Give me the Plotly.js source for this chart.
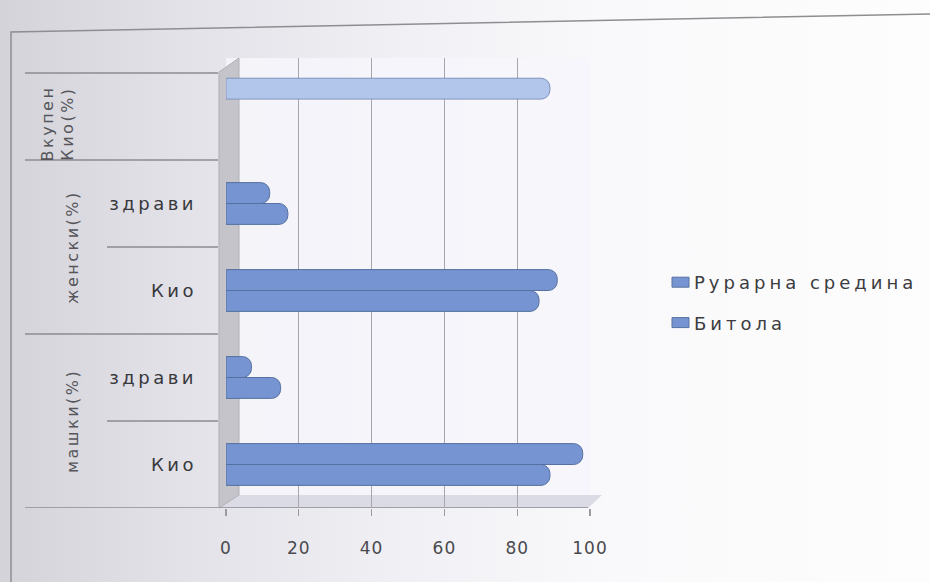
<!DOCTYPE html>
<html>
<head>
<meta charset="utf-8">
<script src="https://cdn.plot.ly/plotly-3.0.1.min.js"></script>
<style>
  html, body { margin: 0; padding: 0; }
  body {
    width: 930px; height: 582px; overflow: hidden;
    background: linear-gradient(to right, #d3d3d9 0%, #e2e2e8 20%, #f0eff4 42%, #f9f9fb 65%, #fdfdfd 100%);
  }
  #chart { width: 930px; height: 582px; }
  .ytick text { letter-spacing: 3.5px; }
  .legendtext { letter-spacing: 4px; }
  .annotation-text { letter-spacing: 2.5px; }
  .xtick text { letter-spacing: 1px; }
  /* wide flat swatches in the legend, sitting close to the text */
  .legendpoints path { d: path("M15,5H-2V-5H15Z"); }
</style>
</head>
<body>
<div id="chart"></div>
<script>
// Inner category labels, bottom to top (the top slot has only an outer label)
const innerLabels = ['Кио', 'здрави', 'Кио', 'здрави', ''];
// Outer group labels
const groupLabels = ['машки(%)', 'женски(%)', 'Вкупен<br>Кио(%)'];
// Series values, bottom to top
const bitola = [89, 15, 86, 17, null];
const ruralna = [98, 7, 91, 12, null];
// Overall value (top slot)
const vkupenKio = [null, null, null, null, 89];
const slots = [0, 1, 2, 3, 4];
const xTicks = [0, 20, 40, 60, 80, 100];

const FONT = 'DejaVu Sans, Verdana, sans-serif';
const barBlue = '#7694d2';
const barEdge = '#56719f';

const traces = [
  {
    type: 'bar', orientation: 'h', name: 'Битола', legendgroup: 'g1', legendrank: 2,
    y: slots, x: bitola, offsetgroup: 'a',
    marker: { color: barBlue, line: { color: barEdge, width: 1 }, cornerradius: 9 },
    hoverinfo: 'x+name'
  },
  {
    type: 'bar', orientation: 'h', name: 'Рурарна средина', legendgroup: 'g2', legendrank: 1,
    y: slots, x: ruralna, offsetgroup: 'b',
    marker: { color: barBlue, line: { color: barEdge, width: 1 }, cornerradius: 9 },
    hoverinfo: 'x+name'
  },
  {
    type: 'bar', orientation: 'h', name: 'Вкупен Кио(%)',
    y: slots, x: vkupenKio, offsetgroup: 'b', offset: 0.2, width: 0.24,
    showlegend: false,
    marker: { color: '#b2c5ea', line: { color: '#8194bd', width: 1 }, cornerradius: 9 },
    hoverinfo: 'x+name'
  }
];

// pixel helpers for paper-anchored decorations
const L = 226, R = 590, T = 58, B = 508;
const px = v => (v - L) / (R - L);
const py = v => (B - v) / (B - T);

const lineColor = '#8b8b90';
const dividers = [
  { y: -0.5, x0: 25, x1: 588 },
  { y: 0.5, x0: 107, x1: 218 },
  { y: 1.5, x0: 25, x1: 218 },
  { y: 2.5, x0: 107, x1: 218 },
  { y: 3.5, x0: 25, x1: 218 },
  { y: 4.5, x0: 25, x1: 218 }
];

const shapes = [
  // floor of the plot box
  { type: 'path', xref: 'paper', yref: 'paper', layer: 'below',
    path: `M${px(219)},${py(508)} L${px(588)},${py(508)} L${px(602)},${py(495)} L${px(239)},${py(495)} Z`,
    fillcolor: '#dadbe5', line: { width: 0 } },
  // side wall
  { type: 'path', xref: 'paper', yref: 'paper', layer: 'below',
    path: `M${px(219)},${py(72)} L${px(239)},${py(58)} L${px(239)},${py(495)} L${px(219)},${py(508)} Z`,
    fillcolor: '#c4c4ca', line: { color: '#b0b0b6', width: 1 } },
  // outer frame
  { type: 'path', xref: 'paper', yref: 'paper', layer: 'below',
    path: `M${px(11)},${py(582)} L${px(11)},${py(32)} L${px(930)},${py(14)}`,
    line: { color: '#8e8e92', width: 1.5 } }
];
dividers.forEach(d => shapes.push({
  type: 'line', xref: 'paper', yref: 'y', layer: 'below',
  x0: px(d.x0), x1: px(d.x1), y0: d.y, y1: d.y,
  line: { color: lineColor, width: 1.5 }
}));

const groupPos = [
  { y: 0.5, x: px(72) },
  { y: 2.5, x: px(72) },
  { y: 3.92, x: px(58) }
];
const annotations = groupLabels.map((t, i) => ({
  xref: 'paper', yref: 'y', x: groupPos[i].x, y: groupPos[i].y,
  xanchor: 'center', yanchor: 'middle',
  text: t, showarrow: false, textangle: -90,
  font: { family: FONT, size: 16, color: '#55555a' }
}));

const layout = {
  width: 930, height: 582,
  margin: { l: L, r: 930 - R, t: T, b: 582 - B, pad: 0, autoexpand: false },
  paper_bgcolor: 'rgba(0,0,0,0)',
  plot_bgcolor: 'rgba(246,246,251,0.85)',
  barmode: 'group', bargap: 0.52, bargroupgap: 0,
  showlegend: true,
  legend: {
    x: px(654), y: py(264), xanchor: 'left', yanchor: 'top',
    traceorder: 'grouped', tracegroupgap: 14,
    bgcolor: 'rgba(0,0,0,0)',
    font: { family: FONT, size: 18, color: '#3c3c40' }
  },
  xaxis: {
    range: [0, 100], tickvals: xTicks, ticktext: xTicks.map(String),
    showgrid: true, gridcolor: '#a6a6ac', gridwidth: 1.2,
    zeroline: false, showline: false,
    ticks: 'outside', ticklen: 7, tickcolor: '#9a9aa0', tickwidth: 1.2,
    ticklabelstandoff: 18,
    tickfont: { family: FONT, size: 17, color: '#4a4a4e' },
    fixedrange: true
  },
  yaxis: {
    range: [-0.5, 4.5 + 15 / 87],
    tickvals: slots, ticktext: innerLabels,
    showgrid: false, zeroline: false, showline: false,
    ticks: '', ticklabelstandoff: 28,
    tickfont: { family: FONT, size: 18, color: '#38383c' },
    fixedrange: true
  },
  shapes: shapes,
  annotations: annotations
};

Plotly.newPlot('chart', traces, layout, { displayModeBar: false, staticPlot: true });
</script>
</body>
</html>
